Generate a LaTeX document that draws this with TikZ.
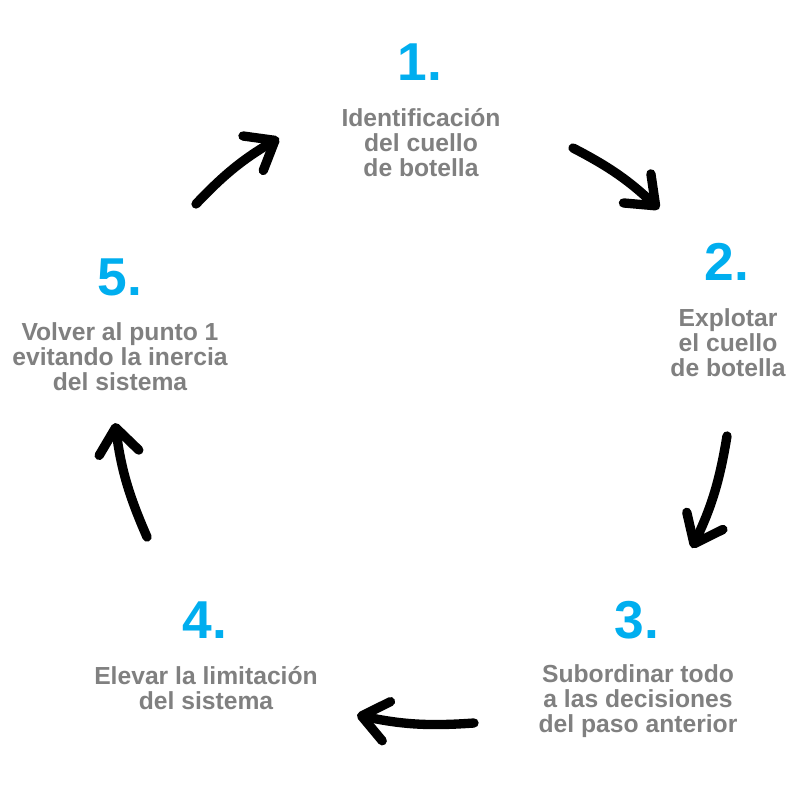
\documentclass[tikz,border=0pt]{standalone}
\usepackage{fontspec}
\setmainfont{Liberation Sans}
\usetikzlibrary{arrows.meta}
\definecolor{azul}{HTML}{00AEEF}
\definecolor{gris}{HTML}{808080}
\begin{document}
\begin{tikzpicture}[
x=0.75pt,y=-0.75pt,
num/.style={text=azul,font=\fontsize{40}{40}\selectfont\bfseries,inner sep=0pt},
desc/.style={text=gris,font=\fontsize{18.5}{18.75}\selectfont\bfseries,align=center,inner sep=0pt},
flecha/.style={line width=7pt,line cap=round,
	-{Straight Barb[length=19pt,width=30pt,line cap=round,line join=round]}}
]
\fill[white] (0,0) rectangle (810,810);
\useasboundingbox (0,0) rectangle (810,810);
% pasos
\node[num] (n1) at (420,62) {1.};
\node[desc] (t1) at (421,143) {Identificación\\del cuello\\de botella};
\node[num] (n2) at (727,262) {2.};
\node[desc] (t2) at (728,343) {Explotar\\el cuello\\de botella};
\node[num] (n3) at (637,620) {3.};
\node[desc] (t3) at (638,701) {Subordinar todo\\a las decisiones\\del paso anterior};
\node[num] (n4) at (205,620) {4.};
\node[desc] (t4) at (206,688) {Elevar la limitación\\del sistema};
\node[num] (n5) at (120,277) {5.};
\node[desc] (t5) at (120,357) {Volver al punto 1\\evitando la inercia\\del sistema};
% flechas
\coordinate (a1s) at (196,204); \coordinate (a1e) at (279,138);
\coordinate (a2s) at (573,148); \coordinate (a2e) at (659,209);
\coordinate (a3s) at (727,436); \coordinate (a3e) at (692,548);
\coordinate (a4s) at (474,723); \coordinate (a4e) at (357,715);
\coordinate (a5s) at (147,537); \coordinate (a5e) at (115,423);
\draw[flecha] (a1s) to[bend left=8] (a1e);
\draw[flecha] (a2s) to[bend left=8] (a2e);
\draw[flecha] (a3s) to[bend left=8] (a3e);
\draw[flecha] (a4s) to[bend left=8] (a4e);
\draw[flecha] (a5s) to[bend left=8] (a5e);
\end{tikzpicture}
\end{document}
